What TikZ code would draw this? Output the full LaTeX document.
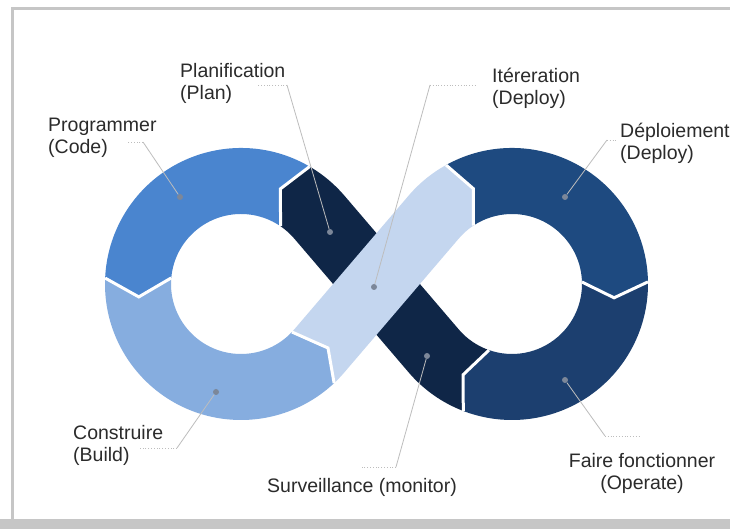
\documentclass[tikz,border=0pt]{standalone}
\usepackage{fontspec}
\setmainfont{Liberation Sans}
\usetikzlibrary{calc}

\definecolor{codeblue}{HTML}{4A85CF}
\definecolor{buildblue}{HTML}{86ADDF}
\definecolor{iterblue}{HTML}{C4D6EF}
\definecolor{deployblue}{HTML}{1E4A80}
\definecolor{operblue}{HTML}{1C3F6F}
\definecolor{navy}{HTML}{0F2647}
\definecolor{labelgray}{HTML}{2B2B2B}
\definecolor{leadergray}{HTML}{BDBDBD}
\definecolor{knobgray}{HTML}{7C8799}
\definecolor{framegray}{HTML}{C6C6C6}

% ring radii: inner edge, middle of the band, outer edge
\def\RadIn{70}
\def\RadMid{103}
\def\RadOut{136}

\begin{document}
\begin{tikzpicture}[x=1pt,y=1pt,
  lbl/.style={font=\fontsize{19.5}{22}\selectfont, text=labelgray, inner sep=0pt, align=left},
  leaderline/.style={draw=leadergray, line width=0.8pt},
  leadertail/.style={leaderline, dotted},
  knob/.style={circle, fill=knobgray, minimum size=6pt, inner sep=0pt},
  seam/.style={draw=white, line width=3pt, line join=miter},
]
\useasboundingbox (0,0) rectangle (730,529);
\fill[white] (0,0) rectangle (730,529);

% frame
\fill[framegray] (0,0) rectangle (730,10);
\draw[framegray, line width=3pt] (12.5,10) -- (12.5,520) -- (730,520);

% ring centres
\coordinate (L) at (241,245);
\coordinate (R) at (512,245);

% seams between segments: inner point, chevron apex, outer point
\coordinate (b1i) at ($(L)+(55.6:\RadIn)$);
\coordinate (b1a) at ($(L)+(67.5:\RadMid)$);
\coordinate (b1o) at ($(L)+(59.7:\RadOut)$);
\coordinate (b2i) at ($(L)+(175:\RadIn)$);
\coordinate (b2a) at ($(L)+(187.2:\RadMid)$);
\coordinate (b2o) at ($(L)+(177.5:\RadOut)$);
\coordinate (b3i) at ($(L)+(-43.3:\RadIn)$);
\coordinate (b3a) at (328,181);
\coordinate (b3o) at ($(L)+(-46.8:\RadOut)$);
\coordinate (b4i) at ($(R)+(123.5:\RadIn)$);
\coordinate (b4a) at ($(R)+(112.1:\RadMid)$);
\coordinate (b4o) at ($(R)+(119:\RadOut)$);
\coordinate (b5i) at ($(R)+(1.6:\RadIn)$);
\coordinate (b5a) at ($(R)+(-7.7:\RadMid)$);
\coordinate (b5o) at ($(R)+(0.9:\RadOut)$);
\coordinate (b6i) at ($(R)+(-109.2:\RadIn)$);
\coordinate (b6a) at ($(R)+(-118.3:\RadMid)$);
\coordinate (b6o) at ($(R)+(-111:\RadOut)$);

% tangent points of the two crossing strips
\coordinate (tLo) at ($(L)+(40.5:\RadOut)$);
\coordinate (tLi) at ($(L)+(40.5:\RadIn)$);
\coordinate (tRo) at ($(R)+(220.5:\RadOut)$);
\coordinate (tRi) at ($(R)+(220.5:\RadIn)$);
\coordinate (uLo) at ($(L)+(-40.5:\RadOut)$);
\coordinate (uLi) at ($(L)+(-40.5:\RadIn)$);
\coordinate (uRo) at ($(R)+(139.5:\RadOut)$);
\coordinate (uRi) at ($(R)+(139.5:\RadIn)$);

% Programmer (Code)
\fill[codeblue] (b1i) -- (b1a) -- (b1o)
  arc[start angle=59.7, end angle=177.5, radius=\RadOut]
  -- (b2a) -- (b2i)
  arc[start angle=175, end angle=55.6, radius=\RadIn] -- cycle;
% Construire (Build)
\fill[buildblue] (b2i) -- (b2a) -- (b2o)
  arc[start angle=177.5, end angle=313.2, radius=\RadOut]
  -- (b3a) -- (b3i)
  arc[start angle=316.7, end angle=175, radius=\RadIn] -- cycle;
% Deploiement (Deploy)
\fill[deployblue] (b4o)
  arc[start angle=119, end angle=0.9, radius=\RadOut]
  -- (b5a) -- (b5i)
  arc[start angle=1.6, end angle=123.5, radius=\RadIn]
  -- (b4a) -- cycle;
% Faire fonctionner (Operate)
\fill[operblue] (b5o)
  arc[start angle=0.9, end angle=-111, radius=\RadOut]
  -- (b6a) -- (b6i)
  arc[start angle=-109.2, end angle=1.6, radius=\RadIn]
  -- (b5a) -- cycle;
% Surveillance + Planification: one dark strip
\fill[navy] (b1o)
  arc[start angle=59.7, end angle=40.5, radius=\RadOut]
  -- (tRi)
  arc[start angle=220.5, end angle=250.8, radius=\RadIn]
  -- (b6a) -- (b6o)
  arc[start angle=249, end angle=220.5, radius=\RadOut]
  -- (tLi)
  arc[start angle=40.5, end angle=55.6, radius=\RadIn]
  -- (b1a) -- cycle;
% Itereration: light strip crossing on top
\fill[iterblue] (b3o)
  arc[start angle=-46.8, end angle=-40.5, radius=\RadOut]
  -- (uRi)
  arc[start angle=139.5, end angle=123.5, radius=\RadIn]
  -- (b4a) -- (b4o)
  arc[start angle=119, end angle=139.5, radius=\RadOut]
  -- (uLi)
  arc[start angle=-40.5, end angle=-43.3, radius=\RadIn]
  -- (b3a) -- cycle;

% white seams
\draw[seam] (b1i) -- (b1a) -- (b1o);
\draw[seam] (b2i) -- (b2a) -- (b2o);
\draw[seam] (b3i) -- (b3a) -- (b3o);
\draw[seam] (b4i) -- (b4a) -- (b4o);
\draw[seam] (b5i) -- (b5a) -- (b5o);
\draw[seam] (b6i) -- (b6a) -- (b6o);

% leader markers
\node[knob] (d-code)  at (180,332) {};
\node[knob] (d-plan)  at (330,297) {};
\node[knob] (d-iter)  at (374,242) {};
\node[knob] (d-depl)  at (565,332) {};
\node[knob] (d-oper)  at (565,149) {};
\node[knob] (d-mon)   at (427,173) {};
\node[knob] (d-build) at (216,137) {};

% leader bends and ends
\coordinate (k-code)  at (143,387); \coordinate (e-code)  at (127,387);
\coordinate (k-plan)  at (287,444); \coordinate (e-plan)  at (257,444);
\coordinate (k-iter)  at (430,444); \coordinate (e-iter)  at (475,444);
\coordinate (k-depl)  at (607,389); \coordinate (e-depl)  at (618,389);
\coordinate (k-oper)  at (605,93);  \coordinate (e-oper)  at (640,93);
\coordinate (k-mon)   at (396,62);  \coordinate (e-mon)   at (362,62);
\coordinate (k-build) at (177,81);  \coordinate (e-build) at (140,81);

\foreach \n in {code,plan,iter,depl,oper,mon,build}{
  \draw[leaderline] (d-\n) -- (k-\n);
  \draw[leadertail] (k-\n) -- (e-\n);
}

% labels
\node[lbl, anchor=north west] (t-plan)  at (180,466) {Planification\\(Plan)};
\node[lbl, anchor=north west] (t-code)  at (48,411)  {Programmer\\(Code)};
\node[lbl, anchor=north west] (t-iter)  at (492,461) {Itéreration\\(Deploy)};
\node[lbl, anchor=north west] (t-depl)  at (620,406) {Déploiement\\(Deploy)};
\node[lbl, anchor=north west] (t-build) at (73,104)  {Construire\\(Build)};
\node[lbl, anchor=north west] (t-mon)   at (267,51)  {Surveillance (monitor)};
\node[lbl, anchor=north, align=center] (t-oper) at (642,76) {Faire fonctionner\\(Operate)};
\end{tikzpicture}
\end{document}
